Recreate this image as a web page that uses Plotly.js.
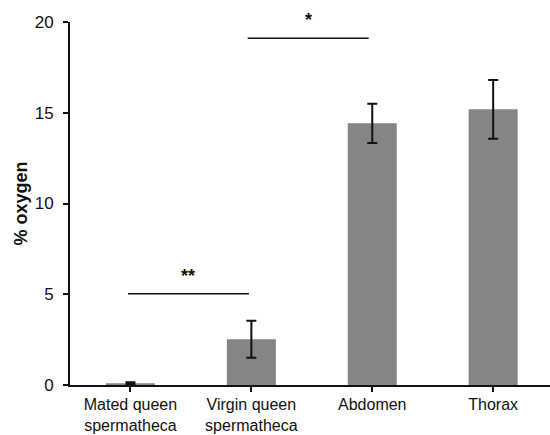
<!DOCTYPE html>
<html>
<head>
<meta charset="utf-8">
<script src="https://cdn.plot.ly/plotly-3.0.1.min.js"></script>
<style>html,body{margin:0;padding:0;background:#fff;}#chart{width:550px;height:435px;}</style>
</head>
<body>
<div id="chart"></div>
<script>
const categories = ["Mated queen<br>spermatheca", "Virgin queen<br>spermatheca", "Abdomen", "Thorax"];
const oxygenMeans = [0.1, 2.52, 14.42, 15.19];
const oxygenErrors = [0.05, 1.02, 1.08, 1.62];
const yTicks = [0, 5, 10, 15, 20];

// significance brackets (category index coordinates)
const sigLabels = ["**", "*"];
const sigStart = [-0.02, 0.97];
const sigEnd = [0.98, 1.97];
const sigLevel = [5.03, 19.1];

const font = "Liberation Sans, Arial, sans-serif";

const trace = {
  type: "bar",
  x: [0, 1, 2, 3],
  y: oxygenMeans,
  marker: {color: "#858585", line: {width: 0}},
  error_y: {type: "data", array: oxygenErrors, visible: true, color: "#111", thickness: 2, width: 5},
  hoverinfo: "none"
};

const shapes = sigLabels.map((s, i) => ({
  type: "line", xref: "x", yref: "y",
  x0: sigStart[i], x1: sigEnd[i], y0: sigLevel[i], y1: sigLevel[i],
  line: {color: "#111", width: 1.5}
}));

const annotations = sigLabels.map((s, i) => ({
  xref: "x", yref: "y",
  x: (sigStart[i] + sigEnd[i]) / 2, y: sigLevel[i],
  yanchor: "bottom", yshift: 6,
  text: "<b>" + s + "</b>", showarrow: false,
  font: {family: font, size: 18, color: "#111"}
}));

const layout = {
  width: 550, height: 435,
  margin: {l: 70, r: 0, t: 22, b: 50},
  paper_bgcolor: "#fff", plot_bgcolor: "#fff",
  showlegend: false,
  bargap: 0.595,
  font: {family: font, size: 17, color: "#111"},
  xaxis: {
    range: [-0.5, 3.47],
    tickmode: "array", tickvals: [0, 1, 2, 3], ticktext: categories,
    showline: true, linecolor: "#111", linewidth: 2,
    ticks: "outside", ticklen: 5, tickwidth: 2, tickcolor: "#111",
    tickson: "boundaries",
    showgrid: false, zeroline: false,
    ticklabelstandoff: -1,
    tickfont: {family: font, size: 16, color: "#111"}
  },
  yaxis: {
    range: [0, 20],
    tickmode: "array", tickvals: yTicks, ticktext: yTicks.map(String),
    showline: true, linecolor: "#111", linewidth: 2,
    ticks: "outside", ticklen: 5, tickwidth: 2, tickcolor: "#111",
    showgrid: false, zeroline: false,
    ticklabelstandoff: 6,
    tickfont: {family: font, size: 17, color: "#111"},
    title: {text: "<b>% oxygen</b>", font: {family: font, size: 18, color: "#111"}, standoff: 2}
  },
  shapes: shapes,
  annotations: annotations
};

Plotly.newPlot("chart", [trace], layout, {staticPlot: true, displayModeBar: false});
</script>
</body>
</html>
